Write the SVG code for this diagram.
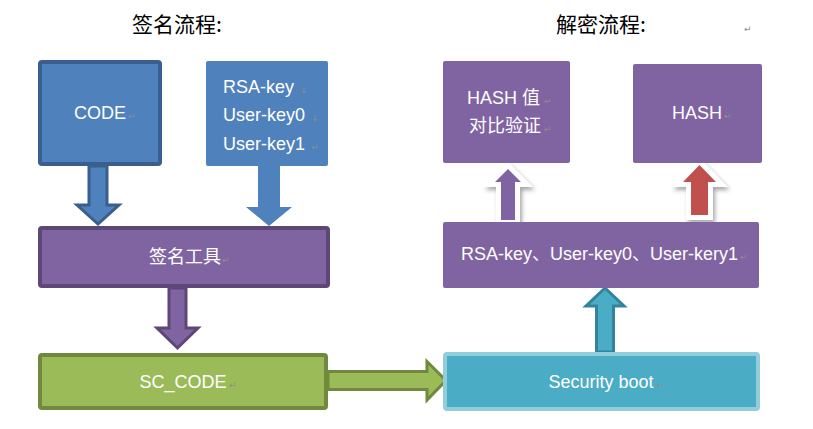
<svg xmlns="http://www.w3.org/2000/svg" width="813" height="429" viewBox="0 0 813 429">
<defs>
<style>
.t{font-family:"Liberation Sans","Noto Sans CJK SC",Arial,sans-serif;font-size:18px;fill:#fff;}
.title{font-family:"Noto Sans CJK SC","Liberation Sans",sans-serif;font-size:21px;fill:#000;}
.m{font-family:"DejaVu Sans",sans-serif;font-size:9px;fill:#8c8c8c;}
.blue{fill:#4F81BD;}
.purple{fill:#8064A2;}
</style>
<filter id="sh" x="-30%" y="-30%" width="160%" height="160%">
<feDropShadow dx="2" dy="3" stdDeviation="2" flood-color="#000" flood-opacity="0.35"/>
</filter>
</defs>
<rect width="813" height="429" fill="#fff"/>

<g id="titles">
<text class="title" x="132" y="32">签名流程:</text>
<text class="title" x="556" y="32">解密流程:</text>
<text class="m" x="744" y="32">↵</text>
</g>

<g id="connectors">
<polygon points="89,166 107,166 107,205 119,205 98,224 77,205 89,205" fill="#4F81BD" stroke="#3A5F8E" stroke-width="3"/>
<polygon points="258,166 280,166 280,207 292,207 269,226 246,207 258,207" fill="#4F81BD"/>
<polygon points="169,288 186,288 186,328 198,328 177.5,348 157,328 169,328" fill="#8064A2" stroke="#5C4776" stroke-width="3"/>
<polygon points="328,371.5 427,371.5 427,361.5 446,380.5 427,400 427,389.5 328,389.5" fill="#9BBB59" stroke="#71893F" stroke-width="3"/>
<polygon points="596.5,352 613.5,352 613.5,306 624,306 605,288 586,306 596.5,306" fill="#4BACC6" stroke="#31849B" stroke-width="3"/>
<g filter="url(#sh)">
<polygon points="501,220 515,220 515,182 521,182 508,169 495,182 501,182" fill="#8064A2" stroke="#fff" stroke-width="10" paint-order="stroke"/>
<polygon points="691,215 708,215 708,182 716,182 699.5,165 683,182 691,182" fill="#C0504D" stroke="#fff" stroke-width="10" paint-order="stroke"/>
</g>
</g>

<g id="code">
<rect x="40" y="62" width="120" height="102" rx="2" fill="#4F81BD" stroke="#3A5F8E" stroke-width="4"/>
<text class="t" x="100" y="119" text-anchor="middle">CODE</text>
<text class="m" x="128" y="119">↵</text>
</g>

<g id="keys">
<rect x="206" y="61" width="122" height="105" rx="2" class="blue"/>
<text class="t" x="223" y="93">RSA-key</text>
<text class="m" x="300" y="93">↓</text>
<text class="t" x="223" y="121">User-key0</text>
<text class="m" x="311" y="121">↓</text>
<text class="t" x="223" y="150">User-key1</text>
<text class="m" x="311" y="150">↵</text>
</g>

<g id="tool">
<rect x="40" y="228" width="288" height="58" rx="2" fill="#8064A2" stroke="#5C4776" stroke-width="4"/>
<text class="t" x="185" y="263" text-anchor="middle">签名工具</text>
<text class="m" x="222" y="263">↵</text>
</g>

<g id="sc_code">
<rect x="40" y="355" width="286" height="53" rx="2" fill="#9BBB59" stroke="#71893F" stroke-width="4"/>
<text class="t" x="183" y="388" text-anchor="middle">SC_CODE</text>
<text class="m" x="229" y="388">↵</text>
</g>

<g id="security_boot">
<rect x="445" y="354" width="313" height="55" rx="2" fill="#4BACC6" stroke="#92CDDC" stroke-width="4"/>
<text class="t" x="601" y="388" text-anchor="middle">Security boot</text>
<text class="m" x="657" y="388">↵</text>
</g>

<g id="keys_verify">
<rect x="443" y="222" width="316" height="66" rx="2" class="purple"/>
<text class="t" x="461" y="260">RSA-key、User-key0、User-kery1</text>
<text class="m" x="740" y="260">↵</text>
</g>

<g id="hash_compare">
<rect x="443" y="61" width="127" height="102" rx="2" class="purple"/>
<text class="t" x="467" y="104">HASH 值</text>
<text class="m" x="544" y="104">↵</text>
<text class="t" x="469" y="132">对比验证</text>
<text class="m" x="544" y="132">↵</text>
</g>

<g id="hash">
<rect x="633" y="64" width="129" height="99" rx="2" class="purple"/>
<text class="t" x="697" y="119" text-anchor="middle">HASH</text>
<text class="m" x="724" y="119">↵</text>
</g>
</svg>
